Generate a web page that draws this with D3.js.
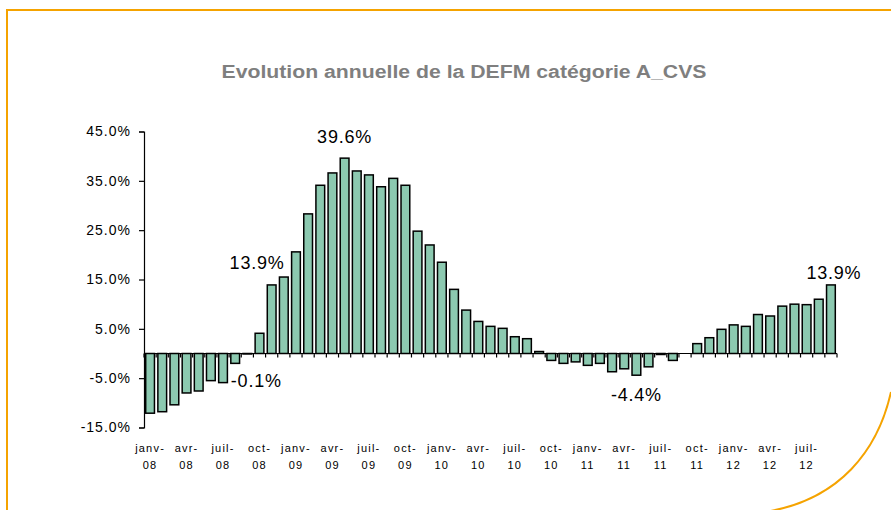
<!DOCTYPE html>
<html>
<head>
<meta charset="utf-8">
<script src="https://cdn.jsdelivr.net/npm/d3@7/dist/d3.min.js"></script>
<style>
  body { margin: 0; background: #fff; }
  text { font-family: Arial, "Liberation Sans", sans-serif; }
</style>
</head>
<body>
<script>
// Evolution annuelle de la DEFM catégorie A_CVS, monthly bars janv-08 .. sept-12

var width = 891,
    height = 510;

var months = ["janv", "févr", "mars", "avr", "mai", "juin",
              "juil", "août", "sept", "oct", "nov", "déc"];
var years = ["08", "09", "10", "11", "12"];

// one value per month, janv-08 to sept-12
var values = [
  -12.1, -11.8, -10.4, -8.0, -7.6, -5.5, -5.9, -2.0, -0.1, 4.1, 13.9, 15.5,
   20.6, 28.3, 34.1, 36.6, 39.6, 37.0, 36.2, 33.8, 35.5, 34.1, 24.8, 22.0,
   18.5, 13.0, 8.8, 6.5, 5.5, 5.1, 3.4, 3.0, 0.4, -1.4, -2.0, -1.7,
   -2.4, -2.0, -3.7, -3.1, -4.4, -2.7, -0.2, -1.4, 0.0, 2.0, 3.2, 4.9,
    5.8, 5.5, 7.9, 7.6, 9.6, 10.0, 9.9, 11.0, 13.9
];

var yTicks = [45, 35, 25, 15, 5, -5, -15];

// bars that carry a value label
var labelled = [8, 10, 16, 40, 56];

// build the category names from months / years
var categories = values.map(function(v, i) {
  return months[i % 12] + "-" + years[Math.floor(i / 12)];
});

var svg = d3.select("body")
            .append("svg")
            .attr("width", width)
            .attr("height", height);

svg.append("rect")
   .attr("width", width)
   .attr("height", height)
   .attr("fill", "#fff");

// orange frame of the slide
var orange = "#f5a300";
svg.append("line")
   .attr("x1", 6).attr("x2", width)
   .attr("y1", 10).attr("y2", 10)
   .attr("stroke", orange).attr("stroke-width", 2);
svg.append("line")
   .attr("x1", 7).attr("x2", 7)
   .attr("y1", 9).attr("y2", height)
   .attr("stroke", orange).attr("stroke-width", 2);
svg.append("path")
   .attr("d", "M891,392 C878,450 840,500 765,512")
   .attr("fill", "none")
   .attr("stroke", orange)
   .attr("stroke-width", 2);

svg.append("text")
   .attr("x", 464)
   .attr("y", 78)
   .attr("text-anchor", "middle")
   .attr("font-size", 18)
   .attr("font-weight", "bold")
   .attr("fill", "#7f7f7f")
   .attr("textLength", 485)
   .attr("lengthAdjust", "spacingAndGlyphs")
   .text("Evolution annuelle de la DEFM catégorie A_CVS");

var left = 144, right = 837;

var x = d3.scaleBand()
          .domain(categories)
          .range([left, right])
          .paddingInner(0.28)
          .paddingOuter(0.14);

var y = d3.scaleLinear()
          .domain([-15, 45])
          .range([427.5, 131.5]);

// y axis
var yAxis = d3.axisLeft(y)
              .tickValues(yTicks)
              .tickSize(5)
              .tickPadding(8)
              .tickFormat(function(d) { return d.toFixed(1) + "%"; });

var gy = svg.append("g")
            .attr("transform", "translate(" + left + ",0)")
            .call(yAxis);
gy.select(".domain").attr("stroke", "#000").attr("stroke-width", 1.2);
gy.selectAll(".tick line").attr("stroke", "#000").attr("stroke-width", 1.2);
gy.selectAll(".tick text")
  .attr("font-family", "Arial, 'Liberation Sans', sans-serif")
  .attr("font-size", 14)
  .attr("letter-spacing", 1)
  .attr("fill", "#000");

// bars
svg.selectAll("rect.bar")
   .data(values)
   .enter()
   .append("rect")
   .attr("class", "bar")
   .attr("x", function(d, i) { return x(categories[i]); })
   .attr("width", x.bandwidth())
   .attr("y", function(d) { return y(Math.max(0, d)); })
   .attr("height", function(d) { return Math.abs(y(d) - y(0)); })
   .attr("fill", "#8cc9b0")
   .attr("stroke", "#000")
   .attr("stroke-width", 1.5);

// x axis line on zero, ticks between categories
var y0 = y(0);
svg.append("line")
   .attr("x1", left).attr("x2", right)
   .attr("y1", y0).attr("y2", y0)
   .attr("stroke", "#000").attr("stroke-width", 1.2);

svg.selectAll("line.xtick")
   .data(d3.range(categories.length + 1))
   .enter()
   .append("line")
   .attr("class", "xtick")
   .attr("x1", function(i) { return left + i * x.step(); })
   .attr("x2", function(i) { return left + i * x.step(); })
   .attr("y1", y0).attr("y2", y0 + 4)
   .attr("stroke", "#000").attr("stroke-width", 1.2);

// category labels every 3 months, on two lines
var shown = categories.filter(function(c, i) { return i % 3 === 0; });
var xl = svg.selectAll("text.xlab")
            .data(shown)
            .enter()
            .append("text")
            .attr("class", "xlab")
            .attr("text-anchor", "middle")
            .attr("font-size", 11)
            .attr("letter-spacing", 1.2)
            .attr("fill", "#000");
xl.append("tspan")
  .attr("x", function(c) { return x(c) + x.bandwidth() / 2; })
  .attr("y", 452)
  .text(function(c) { return c.split("-")[0] + "-"; });
xl.append("tspan")
  .attr("x", function(c) { return x(c) + x.bandwidth() / 2; })
  .attr("y", 469)
  .text(function(c) { return c.split("-")[1]; });

// value labels
var labelOffset = {
  8:  { dx: 9,  dy: 33, anchor: "middle" },
  10: { dx: 13, dy: -16, anchor: "end" },
  16: { dx: 0,  dy: -15, anchor: "middle" },
  40: { dx: 0,  dy: 26, anchor: "middle" },
  56: { dx: 3,  dy: -6, anchor: "middle" }
};

svg.selectAll("text.vlab")
   .data(labelled)
   .enter()
   .append("text")
   .attr("class", "vlab")
   .attr("x", function(i) {
     return x(categories[i]) + x.bandwidth() / 2 + labelOffset[i].dx;
   })
   .attr("y", function(i) {
     return (values[i] >= 0 ? y(values[i]) : Math.max(y(values[i]), y0)) + labelOffset[i].dy;
   })
   .attr("text-anchor", function(i) { return labelOffset[i].anchor; })
   .attr("font-size", 18)
   .attr("letter-spacing", 0.8)
   .attr("fill", "#000")
   .text(function(i) { return values[i].toFixed(1) + "%"; });
</script>
</body>
</html>
